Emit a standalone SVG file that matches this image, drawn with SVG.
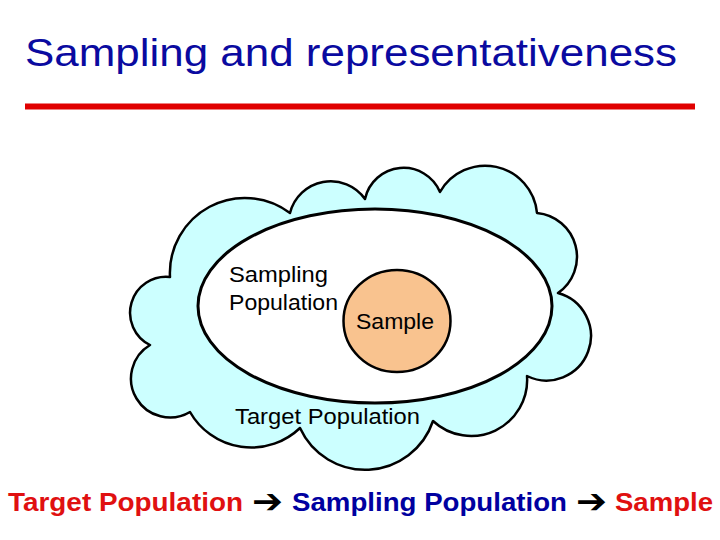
<svg xmlns="http://www.w3.org/2000/svg" width="720" height="540" viewBox="0 0 720 540">
<style>
  .t { font-family: "Liberation Sans", Arial, sans-serif; }
  .lbl { font-size: 22px; fill: #000; }
  .flow { font-size: 26px; font-weight: bold; }
  .red { fill: #E01010; }
  .blue { fill: #0000A0; }
  .arr { font-family: "DejaVu Sans", sans-serif; font-size: 34px; font-weight: bold; fill: #000; }
  .outline { stroke: #000; stroke-width: 2.5; }
</style>
<rect width="720" height="540" fill="#fff"/>
<g id="title">
  <text class="t" x="25" y="66" font-size="38" fill="#0A0AA0" textLength="652" lengthAdjust="spacingAndGlyphs">Sampling and representativeness</text>
  <rect x="25" y="103.5" width="670" height="6" fill="#E00000"/>
</g>
<g id="target-population">
  <path class="outline" fill="#CCFFFF" stroke-linejoin="round" d="M170,277 A75,75 0 0 1 290,213 A42,42 0 0 1 365,199 A39.5,39.5 0 0 1 440,192 A52,52 0 0 1 537,213 A44,44 0 0 1 558,293 A44.5,44.5 0 1 1 527,376 A56,56 0 0 1 433,421 A71.6,71.6 0 0 1 300,428 A70.5,70.5 0 0 1 190,412 A39,39 0 0 1 150,345 A36,36 0 0 1 170,277 Z"/>
  <text class="t lbl" x="235" y="424" textLength="185" lengthAdjust="spacingAndGlyphs">Target Population</text>
</g>
<g id="sampling-population">
  <ellipse cx="375" cy="306" rx="177" ry="97" fill="#fff" stroke="#000" stroke-width="3"/>
  <text class="t lbl" x="229" y="282" textLength="99" lengthAdjust="spacingAndGlyphs">Sampling</text>
  <text class="t lbl" x="229" y="310" textLength="109" lengthAdjust="spacingAndGlyphs">Population</text>
</g>
<g id="sample">
  <ellipse cx="397" cy="321" rx="53.5" ry="51" fill="#F9C38F" class="outline"/>
  <text class="t lbl" x="356" y="329" textLength="78" lengthAdjust="spacingAndGlyphs">Sample</text>
</g>
<g id="connectors"></g>
<g id="flow">
  <text class="t flow red" x="8" y="511" textLength="235" lengthAdjust="spacingAndGlyphs">Target Population</text>
  <text class="arr" x="252" y="513" textLength="31" lengthAdjust="spacingAndGlyphs">➔</text>
  <text class="t flow blue" x="292" y="511" textLength="275" lengthAdjust="spacingAndGlyphs">Sampling Population</text>
  <text class="arr" x="576" y="513" textLength="31" lengthAdjust="spacingAndGlyphs">➔</text>
  <text class="t flow red" x="615" y="511" textLength="98" lengthAdjust="spacingAndGlyphs">Sample</text>
</g>
</svg>
